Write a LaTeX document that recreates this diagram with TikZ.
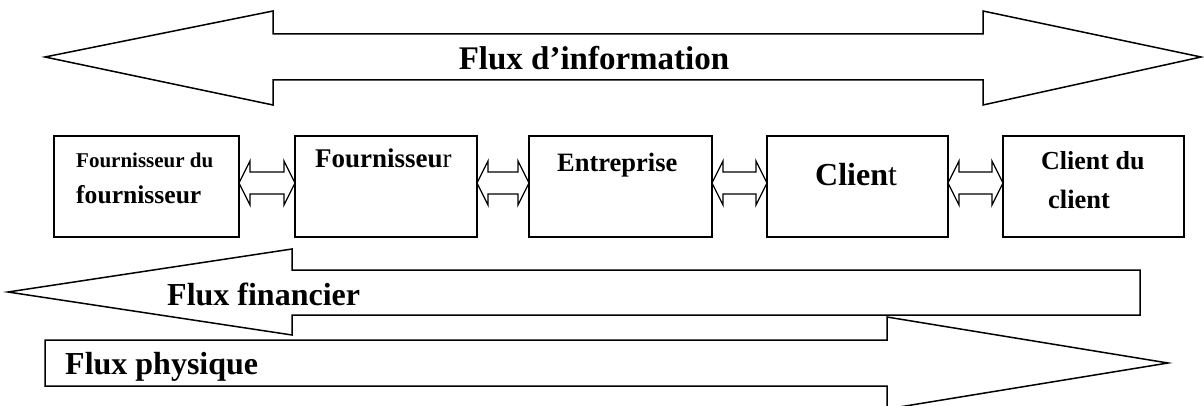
\documentclass[tikz,border=0pt]{standalone}
\usepackage{fontspec}
\setmainfont{Liberation Serif}
\usetikzlibrary{calc}
\newcommand\linkarrow[2]{%
  \draw[link] let \p1=(#1.east), \p2=(#2.west) in
    (\x1,222pt) -- (\x1+11pt,244pt) -- (\x1+11pt,233pt) -- (\x2-11pt,233pt) --
    (\x2-11pt,244pt) -- (\x2,222pt) -- (\x2-11pt,200pt) -- (\x2-11pt,211pt) --
    (\x1+11pt,211pt) -- (\x1+11pt,200pt) -- cycle;}
\begin{document}
\begin{tikzpicture}[x=1pt,y=1pt,
  shapeline/.style={draw=black,line width=1.5pt,fill=white,line join=miter},
  box/.style={draw=black,line width=1.6pt,fill=white,minimum width=#1,
    minimum height=101pt,inner sep=0pt,outer sep=0pt},
  lbl/.style={anchor=base west,inner sep=0pt,font=\bfseries\fontsize{#1}{#1}\selectfont},
  link/.style={draw=black,line width=1.3pt,fill=white,line join=miter}]
\useasboundingbox (0,0) rectangle (1204,405);
\clip (0,0) rectangle (1204,405);

% Flux d'information
\draw[shapeline] (45,348) -- (273,394) -- (273,371) -- (983,371) -- (983,394)
  -- (1201,348) -- (983,300) -- (983,325) -- (273,325) -- (273,300) -- cycle;
\node[anchor=base,inner sep=0pt,font=\bfseries\fontsize{33}{38}\selectfont] (info) at (594,335) {Flux d’information};

% boxes
\node[box=185pt] (b1) at (146.5,218.5) {};
\node[box=182pt] (b2) at (386,218.5) {};
\node[box=183pt] (b3) at (620.5,218.5) {};
\node[box=181pt] (b4) at (857.5,218.5) {};
\node[box=181pt] (b5) at (1093.5,218.5) {};

\node[lbl=21] (t1a) at (76,238) {Fournisseur du};
\node[lbl=25.6] (t1b) at (76,202) {fournisseur};
\node[lbl=27] (t2) at (315,238) {Fournisseu{\mdseries r}};
\node[lbl=26.5] (t3) at (557,234) {Entreprise};
\node[lbl=32] (t4) at (815,220) {Clien{\mdseries t}};
\node[lbl=26] (t5a) at (1041,236) {Client du};
\node[lbl=26.5] (t5b) at (1048,197) {client};

\linkarrow{b1}{b2}
\linkarrow{b2}{b3}
\linkarrow{b3}{b4}
\linkarrow{b4}{b5}

% Flux financier
\draw[shapeline] (8,113) -- (292,156) -- (292,135) -- (1140,135) -- (1140,90)
  -- (292,90) -- (292,70) -- cycle;
\node[lbl=32] (fin) at (167,100) {Flux financier};

% Flux physique
\draw[shapeline] (45,65) -- (887,65) -- (887,88) -- (1168,42) -- (887,-4)
  -- (887,19) -- (45,19) -- cycle;
\node[lbl=32] (phy) at (65,31) {Flux physique};
\end{tikzpicture}
\end{document}
